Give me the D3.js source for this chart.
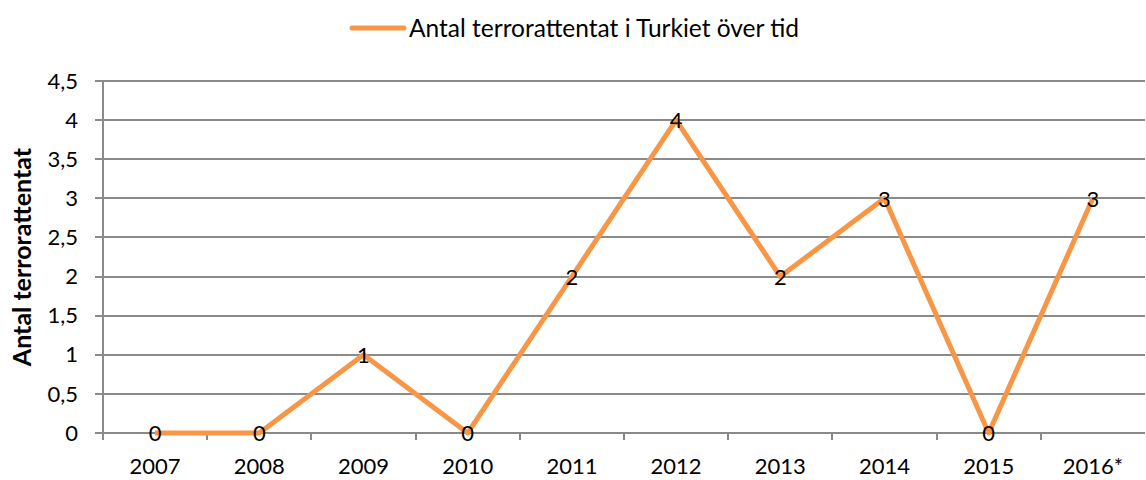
<!DOCTYPE html>
<html>
<head>
<meta charset="utf-8">
<script src="https://cdn.jsdelivr.net/npm/d3@7"></script>
<style>
  body { margin: 0; background: #fff; }
  svg text { font-family: Lato, "Open Sans", sans-serif; fill: #000; }
</style>
</head>
<body>
<svg id="chart"></svg>
<script>
// Data
const years = ["2007", "2008", "2009", "2010", "2011", "2012", "2013", "2014", "2015", "2016*"];
const attacks = [0, 0, 1, 0, 2, 4, 2, 3, 0, 3];
const yTicks = [0, 0.5, 1, 1.5, 2, 2.5, 3, 3.5, 4, 4.5];
const seriesName = "Antal terrorattentat i Turkiet över tid";
const yTitle = "Antal terrorattentat";

const width = 1146;
const height = 480;
const margin = {top: 81, right: 1, bottom: 47, left: 103};

const svg = d3.select("#chart")
    .attr("width", width)
    .attr("height", height);

const x = d3.scaleBand()
    .domain(years)
    .range([margin.left, width - margin.right]);

const y = d3.scaleLinear()
    .domain([0, 4.5])
    .range([height - margin.bottom, margin.top]);

const fmt = d => String(d).replace(".", ",");

// Horizontal gridlines
svg.append("g")
    .selectAll("line")
    .data(yTicks)
    .join("line")
    .attr("x1", margin.left - 8)
    .attr("x2", width - margin.right)
    .attr("y1", d => Math.round(y(d)))
    .attr("y2", d => Math.round(y(d)))
    .attr("stroke", "#8a8a8a")
    .attr("stroke-width", 2);

// Y axis line
svg.append("line")
    .attr("x1", margin.left)
    .attr("x2", margin.left)
    .attr("y1", y(4.5))
    .attr("y2", y(0) + 7)
    .attr("stroke", "#8a8a8a")
    .attr("stroke-width", 2);

// X tick marks at category boundaries
svg.append("g")
    .selectAll("line")
    .data(years.slice(1))
    .join("line")
    .attr("x1", d => Math.round(x(d)))
    .attr("x2", d => Math.round(x(d)))
    .attr("y1", y(0))
    .attr("y2", y(0) + 7)
    .attr("stroke", "#8a8a8a")
    .attr("stroke-width", 2);

// Y tick labels
svg.append("g")
    .selectAll("text")
    .data(yTicks)
    .join("text")
    .attr("x", 78)
    .attr("y", d => y(d))
    .attr("dy", "0.35em")
    .attr("text-anchor", "end")
    .style("font-size", "22px")
    .text(fmt);

// X tick labels
svg.append("g")
    .selectAll("text")
    .data(years)
    .join("text")
    .attr("x", d => x(d) + x.bandwidth() / 2)
    .attr("y", 474)
    .attr("text-anchor", "middle")
    .style("font-size", "22px")
    .text(d => d);

// Y title
svg.append("text")
    .attr("transform", `translate(31, ${y(2.25)}) rotate(-90)`)
    .attr("text-anchor", "middle")
    .style("font-size", "25px")
    .style("font-weight", "bold")
    .text(yTitle);

// Line
const line = d3.line()
    .x((d, i) => x(years[i]) + x.bandwidth() / 2)
    .y(d => y(d));

svg.append("path")
    .datum(attacks)
    .attr("d", line)
    .attr("fill", "none")
    .attr("stroke", "#f79646")
    .attr("stroke-width", 5)
    .attr("stroke-linejoin", "round");

// Data labels
svg.append("g")
    .selectAll("text")
    .data(attacks)
    .join("text")
    .attr("x", (d, i) => x(years[i]) + x.bandwidth() / 2)
    .attr("y", d => y(d))
    .attr("dy", "0.38em")
    .attr("text-anchor", "middle")
    .style("font-size", "22px")
    .text(d => d);

// Legend
svg.append("line")
    .attr("x1", 352)
    .attr("x2", 404)
    .attr("y1", 28)
    .attr("y2", 28)
    .attr("stroke", "#f79646")
    .attr("stroke-width", 5)
    .attr("stroke-linecap", "round");

svg.append("text")
    .attr("x", 409)
    .attr("y", 28)
    .attr("dy", "0.35em")
    .style("font-size", "24.5px")
    .text(seriesName);
</script>
</body>
</html>
